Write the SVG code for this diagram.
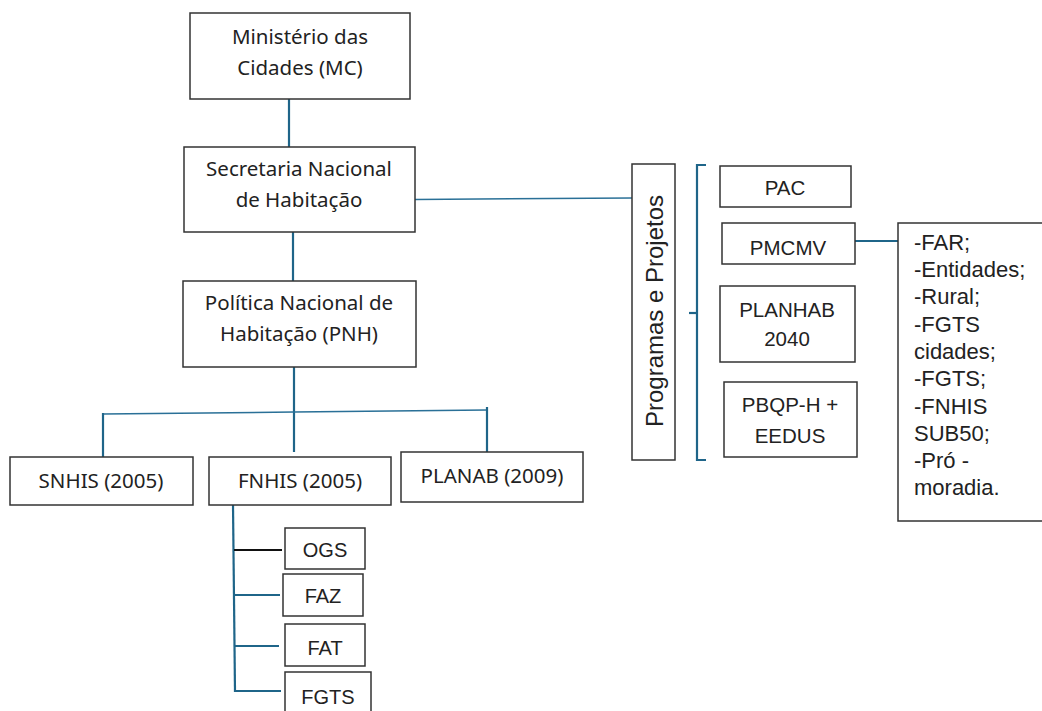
<svg xmlns="http://www.w3.org/2000/svg" width="1042" height="711" viewBox="0 0 1042 711">
<style>
.box{fill:#fff;stroke:#333;stroke-width:1.5}
.t{font-family:"Noto Sans","Open Sans",sans-serif;font-size:20.5px;fill:#222;text-anchor:middle}
.a{font-family:"Liberation Sans",Arial,sans-serif;font-size:20.5px;fill:#222;text-anchor:middle}
.s{font-size:20px}
.v{font-size:24px}
.l{font-family:"Liberation Sans",Arial,sans-serif;font-size:22px;fill:#222}
.c{fill:none;stroke:#1f6589;stroke-width:2.2}
.c2{fill:none;stroke:#2a7097;stroke-width:1.5}
</style>
<rect width="1042" height="711" fill="#fff"/>
<g id="connectors">
<line class="c" x1="289" y1="99" x2="289" y2="147"/>
<line class="c" x1="293" y1="232" x2="293" y2="281"/>
<line class="c2" x1="415" y1="199.5" x2="632" y2="198"/>
<line class="c" x1="294" y1="367" x2="294" y2="452"/>
<polyline class="c2" points="103,414 294,412 487,410"/>
<line class="c" x1="103" y1="413" x2="103" y2="457"/>
<line class="c" x1="487" y1="407" x2="487" y2="452"/>
<line class="c" x1="233" y1="505" x2="235" y2="692"/>
<line x1="234" y1="550" x2="282" y2="550" stroke="#111" stroke-width="2"/>
<line class="c" x1="234" y1="595" x2="280" y2="595"/>
<line class="c" x1="234" y1="646" x2="279" y2="646"/>
<line class="c" x1="235" y1="691" x2="281" y2="691"/>
<polyline class="c" points="706,165 697,165 697,460 706,460"/>
<line class="c" x1="689" y1="313" x2="697" y2="313"/>
<line class="c" x1="855" y1="241" x2="898" y2="241"/>
</g>
<g id="mc"><rect class="box" x="190" y="13" width="220" height="86"/>
<text class="t" x="300" y="44">Ministério das</text><text class="t" x="300" y="75">Cidades (MC)</text></g>
<g id="snh"><rect class="box" x="184" y="147" width="231" height="85"/>
<text class="t" x="299" y="176">Secretaria Nacional</text><text class="t" x="299" y="207">de Habitação</text></g>
<g id="pnh"><rect class="box" x="183" y="281" width="233" height="86"/>
<text class="t" x="299" y="310">Política Nacional de</text><text class="t" x="299" y="341">Habitação (PNH)</text></g>
<g id="snhis"><rect class="box" x="10" y="457" width="183" height="48"/>
<text class="t" x="101" y="488">SNHIS (2005)</text></g>
<g id="fnhis"><rect class="box" x="209" y="457" width="182" height="48"/>
<text class="t" x="300" y="488">FNHIS (2005)</text></g>
<g id="planab"><rect class="box" x="401" y="452" width="182" height="50"/>
<text class="t" x="492" y="483">PLANAB (2009)</text></g>
<g id="ogs"><rect class="box" x="285" y="528" width="80" height="41"/>
<text class="a s" x="325" y="557">OGS</text></g>
<g id="faz"><rect class="box" x="283" y="574" width="80" height="42"/>
<text class="a s" x="323" y="603">FAZ</text></g>
<g id="fat"><rect class="box" x="285" y="624" width="80" height="42"/>
<text class="a s" x="325" y="655">FAT</text></g>
<g id="fgts"><rect class="box" x="285" y="672" width="86" height="45"/>
<text class="a s" x="328" y="704">FGTS</text></g>
<g id="programas"><rect class="box" x="632" y="164" width="43" height="296"/>
<text class="a v" transform="translate(663,311) rotate(-90)">Programas e Projetos</text></g>
<g id="pac"><rect class="box" x="720" y="166" width="131" height="41"/>
<text class="a" x="785" y="195">PAC</text></g>
<g id="pmcmv"><rect class="box" x="722" y="223" width="133" height="41"/>
<text class="a" x="788" y="255">PMCMV</text></g>
<g id="planhab"><rect class="box" x="720" y="286" width="135" height="76"/>
<text class="a" x="787" y="317">PLANHAB</text><text class="a" x="787" y="346">2040</text></g>
<g id="pbqp"><rect class="box" x="724" y="382" width="133" height="75"/>
<text class="a" x="790" y="412">PBQP-H +</text><text class="a" x="790" y="443">EEDUS</text></g>
<g id="lista"><rect class="box" x="898" y="223" width="150" height="298"/>
<text class="l" x="914" y="250">-FAR;</text>
<text class="l" x="914" y="277">-Entidades;</text>
<text class="l" x="914" y="304">-Rural;</text>
<text class="l" x="914" y="332">-FGTS</text>
<text class="l" x="914" y="359">cidades;</text>
<text class="l" x="914" y="386">-FGTS;</text>
<text class="l" x="914" y="414">-FNHIS</text>
<text class="l" x="914" y="441">SUB50;</text>
<text class="l" x="914" y="468">-Pró -</text>
<text class="l" x="914" y="495">moradia.</text></g>
</svg>
